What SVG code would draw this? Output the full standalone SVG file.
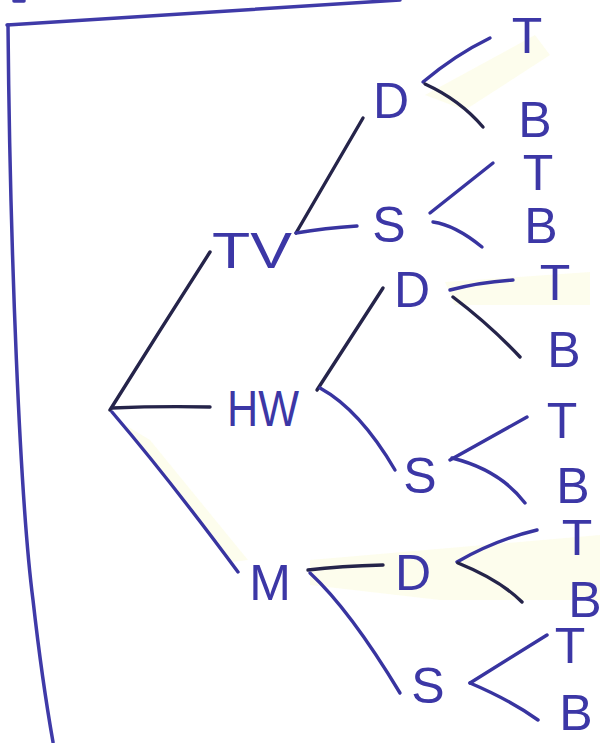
<svg xmlns="http://www.w3.org/2000/svg" width="605" height="743" viewBox="0 0 605 743">
<style>
.lbl{font-family:"Liberation Sans",Arial,sans-serif;font-size:50px;fill:#3c37a6;text-anchor:middle}
.c{fill:none;stroke-width:3.4;stroke-linecap:round}
.k{stroke:#25244a}
.b{stroke:#3834a0}
.frame{fill:none;stroke:#3f3aa8;stroke-width:3.5;stroke-linecap:round}
.hl{fill:#fcfce6;opacity:0.7}
</style>
<rect width="605" height="743" fill="#ffffff"/>
<g id="highlights">
<path class="hl" d="M425,95 L535,35 L550,55 L465,110 Z"/>
<path class="hl" d="M445,282 L590,272 L590,305 L455,305 Z"/>
<path class="hl" d="M310,560 L600,535 L600,600 L440,600 L310,585 Z"/>
<path class="hl" d="M125,425 L150,440 L248,560 L232,562 Z"/>
</g>
<g id="frame">
<path class="frame" d="M7,25 Q200,12 400,0"/>
<path class="frame" d="M8,25 C10,250 20,500 33,600 Q42,680 53,742"/>
<path class="frame" d="M14,1 L24,1" stroke-width="1.5"/>
</g>
<g id="connectors">
<path class="c k" d="M110,410 Q160,330 210,252"/>
<path class="c k" d="M112,408 Q160,406 210,407"/>
<path class="c b" d="M112,412 Q170,480 238,572"/>
<path class="c k" d="M296,233 L363,118"/>
<path class="c b" d="M296,233 Q325,228 357,226"/>
<path class="c b" d="M423,82 Q455,55 490,38"/>
<path class="c k" d="M425,84 Q460,100 483,127"/>
<path class="c b" d="M430,213 L493,163"/>
<path class="c b" d="M433,222 Q455,225 482,247"/>
<path class="c b" d="M450,290 Q480,282 513,280"/>
<path class="c k" d="M453,297 Q490,325 520,357"/>
<path class="c k" d="M317,390 L383,288"/>
<path class="c b" d="M320,388 Q360,410 395,470"/>
<path class="c b" d="M450,460 L527,417"/>
<path class="c b" d="M452,458 Q500,470 525,503"/>
<path class="c k" d="M308,570 Q340,566 383,565"/>
<path class="c b" d="M310,573 Q350,610 400,693"/>
<path class="c b" d="M457,562 Q495,540 537,530"/>
<path class="c k" d="M458,563 Q500,580 522,602"/>
<path class="c b" d="M470,683 L547,635"/>
<path class="c b" d="M470,683 Q510,700 538,720"/>
</g>
<g id="n-TV"><text class="lbl" x="252" y="268" textLength="80" lengthAdjust="spacingAndGlyphs">TV</text></g>
<g id="n-HW"><text class="lbl" x="263" y="426" textLength="72" lengthAdjust="spacingAndGlyphs">HW</text></g>
<g id="n-M"><text class="lbl" x="270" y="600">M</text></g>
<g id="n-D1"><text class="lbl" x="391" y="118">D</text></g>
<g id="n-S1"><text class="lbl" x="389" y="242">S</text></g>
<g id="n-D2"><text class="lbl" x="412" y="307" font-size="44">D</text></g>
<g id="n-S2"><text class="lbl" x="420" y="493">S</text></g>
<g id="n-D3"><text class="lbl" x="413" y="590">D</text></g>
<g id="n-S3"><text class="lbl" x="428" y="703">S</text></g>
<g id="n-T1"><text class="lbl" x="527" y="53">T</text></g>
<g id="n-B1"><text class="lbl" x="535" y="137">B</text></g>
<g id="n-T2"><text class="lbl" x="538" y="190">T</text></g>
<g id="n-B2"><text class="lbl" x="541" y="243">B</text></g>
<g id="n-T3"><text class="lbl" x="555" y="300">T</text></g>
<g id="n-B3"><text class="lbl" x="564" y="367">B</text></g>
<g id="n-T4"><text class="lbl" x="562" y="438">T</text></g>
<g id="n-B4"><text class="lbl" x="573" y="503">B</text></g>
<g id="n-T5"><text class="lbl" x="577" y="555">T</text></g>
<g id="n-B5"><text class="lbl" x="585" y="617">B</text></g>
<g id="n-T6"><text class="lbl" x="570" y="663">T</text></g>
<g id="n-B6"><text class="lbl" x="576" y="730">B</text></g>
</svg>
